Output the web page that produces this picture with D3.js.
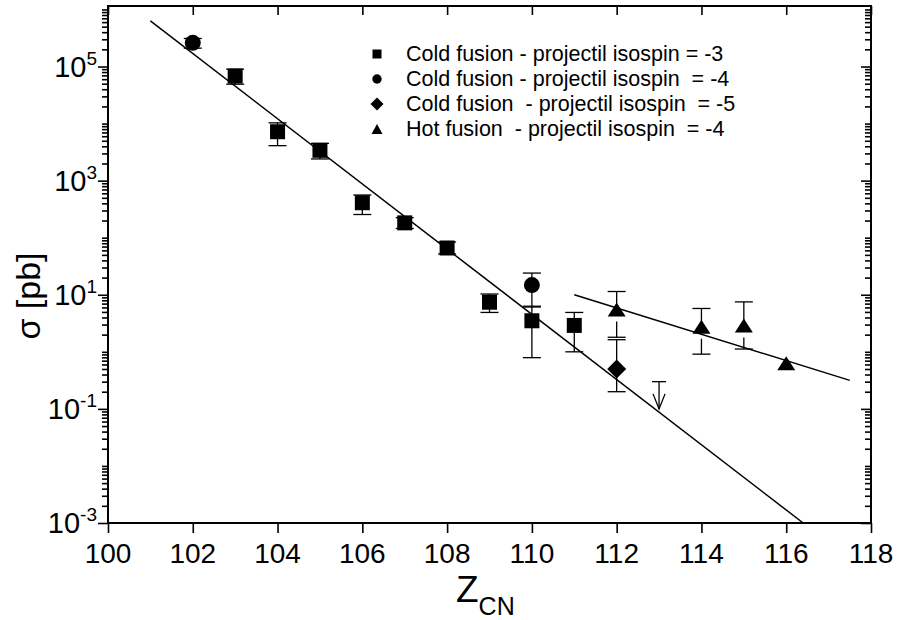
<!DOCTYPE html>
<html>
<head>
<meta charset="utf-8">
<script src="https://cdn.jsdelivr.net/npm/d3@7"></script>
<style>
  body { margin: 0; background: #fff; }
  text { font-family: "Liberation Sans", Arial, sans-serif; fill: #000; }
  .axis path { display: none; }
  .axis line { stroke: #000; stroke-width: 1.6; }
</style>
</head>
<body>
<svg id="chart" width="900" height="620"></svg>
<script>
// values (sigma in pb)
var squareZ = [103, 104, 105, 106, 107, 108, 109, 110, 111];
var squareSigma = [6.8e4, 7.2e3, 3.4e3, 410, 182, 66, 7.4, 3.5, 2.9];
var squareHi = [9.0e4, 1.03e4, 4.5e3, 560, 225, 84, 10.3, 6.3, 4.9];
var squareLo = [4.9e4, 4.1e3, 2.4e3, 255, 145, 52, 4.9, 0.79, 1.0];

var circleZ = [102, 110];
var circleSigma = [2.6e5, 14.8];
var circleHi = [3.1e5, 24];
var circleLo = [2.1e5, 6.1];

var diamondZ = [112];
var diamondSigma = [0.5];
var diamondHi = [1.63];
var diamondLo = [0.2];

var triangleZ = [112, 114, 115, 116];
var triangleSigma = [5.5, 2.75, 2.9, 0.63];
var triangleHi = [11.4, 5.75, 7.5, null];
var triangleLo = [1.8, 0.91, 1.12, null];

// upper limit at Z = 113
var limitZ = [113];
var limitCap = [0.30];
var limitTip = [0.10];

// fitted lines
var coldFitZ = [101, 116.4];
var coldFitSigma = [6.3e5, 1e-3];
var hotFitZ = [111, 117.5];
var hotFitSigma = [10, 0.316];

var xTicks = [100, 102, 104, 106, 108, 110, 112, 114, 116, 118];
var yLabelExps = [-3, -1, 1, 3, 5];

var legendLabels = [
  "Cold fusion - projectil isospin = -3",
  "Cold fusion - projectil isospin  = -4",
  "Cold fusion  - projectil isospin  = -5",
  "Hot fusion  - projectil isospin  = -4"
];

var svgWidth = 900;
var svgHeight = 620;
var margin = { top: 6, right: 29, bottom: 97, left: 108 };
var width = svgWidth - margin.left - margin.right;
var height = svgHeight - margin.top - margin.bottom;

var svg = d3.select("#chart");
var g = svg.append("g").attr("transform", "translate(" + margin.left + "," + margin.top + ")");

var xScale = d3.scaleLinear().domain([100, 118]).range([0, width]);
var yScale = d3.scaleLog().domain([1e-3, 1.15e6]).range([height, 0]);

// minor / major log ticks
var minorVals = [];
var majorVals = [];
for (var n = -3; n <= 6; n++) {
  for (var m = 1; m <= 9; m++) {
    var v = m * Math.pow(10, n);
    if (v < 1e-3 || v > 1.15e6) continue;
    if (m === 1 && Math.abs(n % 2) === 1) majorVals.push(v);
    else minorVals.push(v);
  }
}

// left axis: ticks outward
g.append("g").attr("class", "axis")
  .call(d3.axisLeft(yScale).tickValues(minorVals).tickSize(6).tickFormat(""));
g.append("g").attr("class", "axis")
  .call(d3.axisLeft(yScale).tickValues(majorVals).tickSize(10).tickFormat(""));
// right axis: ticks inward
g.append("g").attr("class", "axis").attr("transform", "translate(" + width + ",0)")
  .call(d3.axisLeft(yScale).tickValues(minorVals).tickSize(6).tickFormat(""));
g.append("g").attr("class", "axis").attr("transform", "translate(" + width + ",0)")
  .call(d3.axisLeft(yScale).tickValues(majorVals).tickSize(10).tickFormat(""));
// bottom axis outward, top axis inward
g.append("g").attr("class", "axis").attr("transform", "translate(0," + height + ")")
  .call(d3.axisBottom(xScale).tickValues(xTicks).tickSize(10).tickFormat(""));
g.append("g").attr("class", "axis")
  .call(d3.axisBottom(xScale).tickValues(xTicks).tickSize(9).tickFormat(""));

// frame
g.append("rect")
  .attr("width", width).attr("height", height)
  .attr("fill", "none").attr("stroke", "#000").attr("stroke-width", 2);

// tick labels
g.selectAll(".xlab").data(xTicks).enter().append("text")
  .attr("class", "xlab")
  .attr("x", function(d) { return xScale(d); })
  .attr("y", height + 40)
  .attr("text-anchor", "middle")
  .attr("font-size", 28)
  .text(function(d) { return d; });

var ylab = g.selectAll(".ylab").data(yLabelExps).enter().append("text")
  .attr("class", "ylab")
  .attr("x", -11)
  .attr("y", function(d) { return yScale(Math.pow(10, d)) + 10; })
  .attr("text-anchor", "end")
  .attr("font-size", 29);
ylab.append("tspan").text("10");
ylab.append("tspan").attr("font-size", 19).attr("dy", -12)
  .text(function(d) { return d < 0 ? "-" + (-d) : d; });

// axis titles
svg.append("text")
  .attr("transform", "translate(40," + 296 + ") rotate(-90)")
  .attr("text-anchor", "middle")
  .attr("font-size", 34)
  .text("\u03c3 [pb]");

var xt = svg.append("text")
  .attr("x", 456).attr("y", 602)
  .attr("font-size", 37);
xt.append("tspan").text("Z");
xt.append("tspan").attr("font-size", 25).attr("dy", 13).text("CN");

// fit lines
var line = d3.line()
  .x(function(d) { return xScale(d[0]); })
  .y(function(d) { return yScale(d[1]); });
g.append("path").datum(d3.zip(coldFitZ, coldFitSigma))
  .attr("d", line).attr("fill", "none").attr("stroke", "#000").attr("stroke-width", 1.5);
g.append("path").datum(d3.zip(hotFitZ, hotFitSigma))
  .attr("d", line).attr("fill", "none").attr("stroke", "#000").attr("stroke-width", 1.5);

// marker shapes
var shapes = {
  square: "M-7.5,-7.5H7.5V7.5H-7.5Z",
  circle: d3.symbol().type(d3.symbolCircle).size(Math.PI * 64)(),
  diamond: "M0,-9.5L9.5,0L0,9.5L-9.5,0Z",
  triangle: "M0,-7L9,7L-9,7Z"
};
var legendShapes = {
  square: "M-4.5,-4.5H4.5V4.5H-4.5Z",
  circle: d3.symbol().type(d3.symbolCircle).size(Math.PI * 22)(),
  diamond: "M0,-6.5L6.5,0L0,6.5L-6.5,0Z",
  triangle: "M0,-5L5.5,5L-5.5,5Z"
};

function drawSeries(zs, sig, hi, lo, shape, gapBelow) {
  var rows = zs.map(function(z, i) { return { z: z, s: sig[i], hi: hi[i], lo: lo[i] }; });
  var eb = g.append("g").attr("stroke", "#000").attr("stroke-width", 1.3);
  rows.forEach(function(d) {
    var cx = xScale(d.z), cy = yScale(d.s);
    if (d.hi != null) {
      eb.append("line").attr("x1", cx).attr("x2", cx).attr("y1", yScale(d.hi)).attr("y2", cy);
      eb.append("line").attr("x1", cx - 9).attr("x2", cx + 9).attr("y1", yScale(d.hi)).attr("y2", yScale(d.hi));
    }
    if (d.lo != null) {
      eb.append("line").attr("x1", cx).attr("x2", cx).attr("y1", cy + gapBelow).attr("y2", yScale(d.lo));
      eb.append("line").attr("x1", cx - 9).attr("x2", cx + 9).attr("y1", yScale(d.lo)).attr("y2", yScale(d.lo));
    }
  });
  g.append("g").selectAll("path").data(rows).enter().append("path")
    .attr("d", shapes[shape])
    .attr("transform", function(d) { return "translate(" + xScale(d.z) + "," + yScale(d.s) + ")"; })
    .attr("fill", "#000");
}

drawSeries(squareZ, squareSigma, squareHi, squareLo, "square", 0);
drawSeries(circleZ, circleSigma, circleHi, circleLo, "circle", 0);
drawSeries(diamondZ, diamondSigma, diamondHi, diamondLo, "diamond", 0);
drawSeries(triangleZ, triangleSigma, triangleHi, triangleLo, "triangle", 12);

// upper limit arrow
limitZ.forEach(function(z, i) {
  var cx = xScale(z), yc = yScale(limitCap[i]), yt = yScale(limitTip[i]);
  var a = g.append("g").attr("stroke", "#000").attr("stroke-width", 1.3).attr("fill", "none");
  a.append("line").attr("x1", cx - 7).attr("x2", cx + 7).attr("y1", yc).attr("y2", yc);
  a.append("line").attr("x1", cx).attr("x2", cx).attr("y1", yc).attr("y2", yt);
  a.append("path").attr("d", "M" + (cx - 6) + "," + (yt - 15) + "L" + cx + "," + yt + "L" + (cx + 6) + "," + (yt - 15));
});

// legend
var legendKeys = ["square", "circle", "diamond", "triangle"];
var leg = svg.append("g").attr("transform", "translate(377,54)");
legendKeys.forEach(function(k, i) {
  leg.append("path").attr("d", legendShapes[k])
    .attr("transform", "translate(0," + (i * 25) + ")").attr("fill", "#000");
  leg.append("text")
    .attr("x", 29).attr("y", i * 25 + 7)
    .attr("font-size", 21.5)
    .attr("xml:space", "preserve")
    .style("white-space", "pre")
    .text(legendLabels[i]);
});
</script>
</body>
</html>
